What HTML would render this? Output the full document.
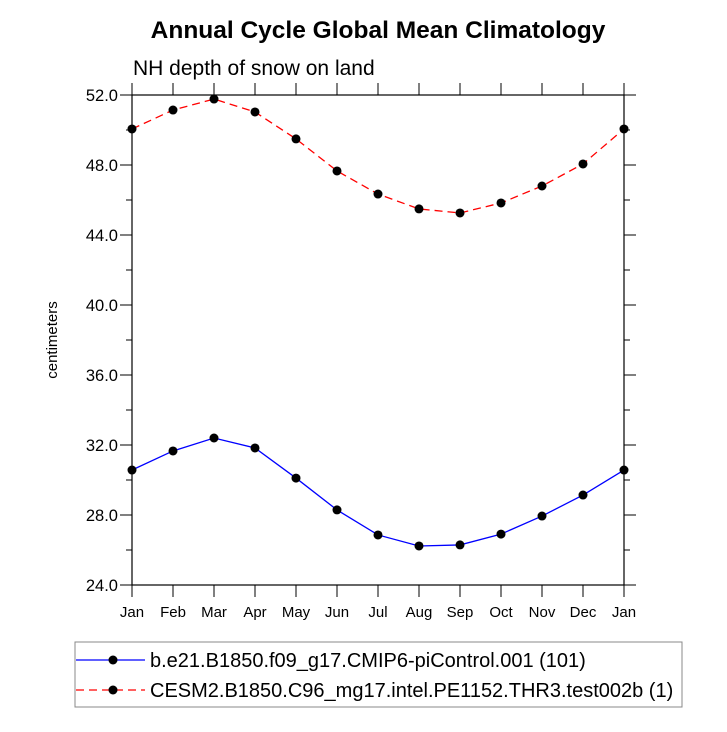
<!DOCTYPE html>
<html><head><meta charset="utf-8"><style>
body{margin:0;background:#fff}
svg text{font-family:"Liberation Sans",sans-serif}
</style></head><body>
<svg id="c" width="727" height="727" viewBox="0 0 727 727">
<text x="378" y="38" text-anchor="middle" font-size="24.5" font-weight="bold">Annual Cycle Global Mean Climatology</text>
<text x="133" y="75" font-size="21">NH depth of snow on land</text>
<text transform="translate(57,340) rotate(-90)" text-anchor="middle" font-size="15">centimeters</text>
<g id="axes"></g><g id="series"></g>
<rect x="75" y="642" width="607" height="65" fill="none" stroke="#888" stroke-width="1"/>
<g id="legend"></g>
</svg>
<script>
const months=["Jan","Feb","Mar","Apr","May","Jun","Jul","Aug","Sep","Oct","Nov","Dec","Jan"];
const yTicks=[24,28,32,36,40,44,48,52];
const seriesA=[30.57,31.66,32.40,31.83,30.11,28.29,26.86,26.23,26.29,26.91,27.94,29.14,30.57];
const seriesB=[50.06,51.14,51.77,51.03,49.49,47.66,46.34,45.49,45.26,45.83,46.80,48.06,50.06];
const names=["b.e21.B1850.f09_g17.CMIP6-piControl.001 (101)","CESM2.B1850.C96_mg17.intel.PE1152.THR3.test002b (1)"];
const L=132,R=624,T=95,B=585,ymin=24,ymax=52;
const xs=i=>L+(R-L)*i/(months.length-1);
const ys=v=>B-(B-T)*(v-ymin)/(ymax-ymin);
const NS="http://www.w3.org/2000/svg";
function mk(t,a,p){const e=document.createElementNS(NS,t);for(const k in a)e.setAttribute(k,a[k]);p.appendChild(e);return e;}
const ax=document.getElementById('axes');
const fr=mk('rect',{x:L,y:T,width:R-L,height:B-T,fill:'none',stroke:'#000','stroke-width':1.2},ax);


months.forEach((m,i)=>{const x=xs(i);
mk('line',{x1:x,y1:B,x2:x,y2:B+12,stroke:'#000'},ax);
mk('line',{x1:x,y1:T,x2:x,y2:T-12,stroke:'#000'},ax);
const t=mk('text',{x:x,y:B+32,'text-anchor':'middle','font-size':15},ax);t.textContent=m;

});
for(let v=ymin;v<=ymax;v+=2){const y=ys(v);const maj=yTicks.includes(v);const len=maj?12:6;
mk('line',{x1:L,y1:y,x2:L-len,y2:y,stroke:'#000'},ax);
mk('line',{x1:R,y1:y,x2:R+len,y2:y,stroke:'#000'},ax);}
yTicks.forEach(v=>{const t=mk('text',{x:L-14,y:ys(v)+6,'text-anchor':'end','font-size':16.5},ax);t.textContent=v.toFixed(1);

});
const sg=document.getElementById('series');
function draw(vals,col,dash,nm){
const p=mk('polyline',{points:vals.map((v,i)=>xs(i)+','+ys(v)).join(' '),fill:'none',stroke:col,'stroke-width':1.3,'stroke-dasharray':dash},sg);


vals.forEach((v,i)=>{const c=mk('circle',{cx:xs(i),cy:ys(v),r:4.5,fill:'#000'},sg);

});}
draw(seriesB,'#f00','8 5','series-b');
draw(seriesA,'#00f','none','series-a');
const lg=document.getElementById('legend');
[[660,'#00f','none'],[690,'#f00','8 5']].forEach((d,i)=>{
mk('line',{x1:76,y1:d[0],x2:145,y2:d[0],stroke:d[1],'stroke-width':1.3,'stroke-dasharray':d[2]},lg);
mk('circle',{cx:113,cy:d[0],r:4.5,fill:'#000'},lg);
const t=mk('text',{x:150,y:d[0]+7,'font-size':20},lg);t.textContent=names[i];

});
</script>
</body></html>
